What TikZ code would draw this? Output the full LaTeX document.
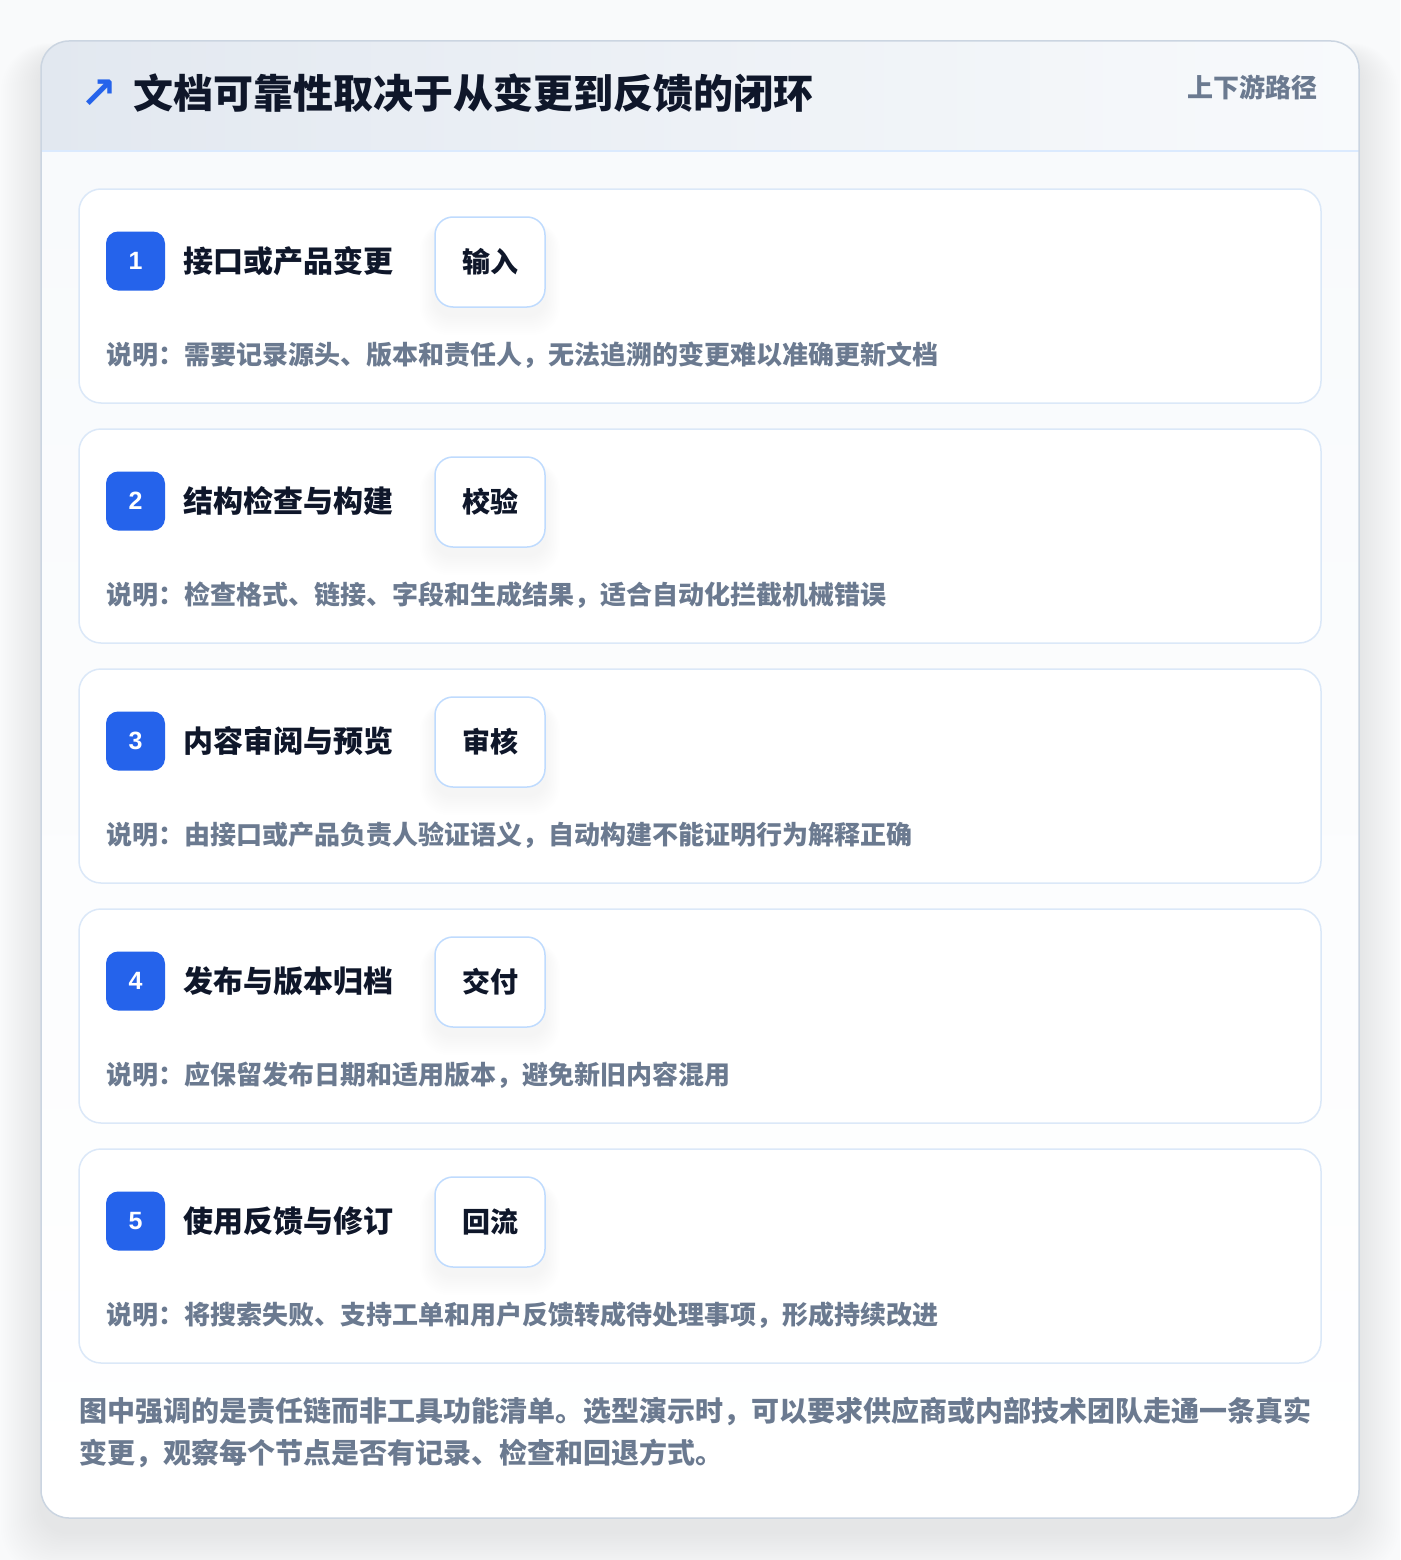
\documentclass[tikz,border=0pt]{standalone}
\usepackage{fontspec}
\setmainfont{Noto Sans CJK SC}
\newfontfamily\symfont{DejaVu Sans}
\newfontfamily\numfont{Liberation Sans}
\definecolor{pagebg}{HTML}{F9FAFB}
\definecolor{hdrL}{HTML}{E2E8F0}
\definecolor{hdrR}{HTML}{F8FAFC}
\definecolor{bodytop}{HTML}{F8FAFC}
\definecolor{outerborder}{HTML}{CBD5E1}
\definecolor{hdrline}{HTML}{DBEAFE}
\definecolor{cardborder}{HTML}{DBE8F8}
\definecolor{tagborder}{HTML}{BFDBFE}
\definecolor{accent}{HTML}{2563EB}
\definecolor{ink}{HTML}{0F172A}
\definecolor{muted}{HTML}{6B7A90}
\tikzset{
  card/.style={draw=cardborder, line width=1.5pt, fill=white, rounded corners=22pt,
    minimum width=1242pt, minimum height=214pt, inner sep=0pt},
  badge/.style={fill=accent, rounded corners=12pt, minimum width=59pt, minimum height=59pt,
    inner sep=0pt, text=white, font=\numfont\fontsize{25}{28}\selectfont\bfseries},
  steptitle/.style={anchor=west, inner sep=0pt, text=ink, font=\fontsize{30}{36}\selectfont\bfseries},
  tagbox/.style={draw=tagborder, line width=1.5pt, fill=white, rounded corners=18pt,
    minimum width=110pt, minimum height=90pt, inner sep=0pt, text=ink,
    font=\fontsize{28}{34}\selectfont\bfseries},
  desc/.style={anchor=west, inner sep=0pt, text=muted, font=\fontsize{26}{32}\selectfont\bfseries},
}
\newcommand{\mystep}[5]{%
  % #1 index, #2 top y, #3 title, #4 tag, #5 description
  \node[card] (card#1) at (700,#2+107) {};
  \foreach \k in {1,...,10}{
    \fill[black, opacity=0.005, rounded corners=18pt+\k pt]
      (435-\k*1.5,#2+28-\k*0.3+8) rectangle (545+\k*1.5,#2+118+\k*2+8);
  }
  \node[badge] (badge#1) at (135.5,#2+72) {#1};
  \node[steptitle] (title#1) at (183,#2+72) {#3};
  \node[tagbox] (tag#1) at (490,#2+73) {#4};
  \node[desc] (desc#1) at (106,#2+166) {#5};
}
\begin{document}
\begin{tikzpicture}[x=1pt,y=-1pt]
\useasboundingbox (0,0) rectangle (1400,1560);
\fill[pagebg] (0,0) rectangle (1400,1560);
% outer shadow
\foreach \i in {1,...,20}{
  \fill[black, opacity=0.0045, rounded corners=28pt+\i pt]
    (41-\i*2,41-\i*0.6+14) rectangle (1359+\i*2,1518+\i*2.2+14);
}
% outer card
\begin{scope}
  \clip[rounded corners=28pt] (41,41) rectangle (1359,1518);
  \shade[left color=hdrL, right color=hdrR] (41,41) rectangle (1359,151);
  \shade[top color=bodytop, bottom color=white] (41,151) rectangle (1359,1518);
  \draw[hdrline, line width=1.5pt] (41,151) -- (1359,151);
\end{scope}
\node[draw=outerborder, line width=1.5pt, rounded corners=28pt, minimum width=1318pt,
  minimum height=1477pt, inner sep=0pt] (outer) at (700,779.5) {};
% header
\node[anchor=center, inner sep=0pt, text=accent, font=\symfont\fontsize{44}{50}\selectfont\bfseries]
  (arrow) at (98.5,94) {↗};
\node[anchor=west, inner sep=0pt, text=ink, font=\fontsize{40}{48}\selectfont\bfseries]
  (maintitle) at (133,93) {文档可靠性取决于从变更到反馈的闭环};
\node[anchor=east, inner sep=0pt, text=muted, font=\fontsize{26}{32}\selectfont\bfseries]
  (pathlabel) at (1318,87) {上下游路径};
% steps
\mystep{1}{189}{接口或产品变更}{输入}{说明：需要记录源头、版本和责任人，无法追溯的变更难以准确更新文档}
\mystep{2}{429}{结构检查与构建}{校验}{说明：检查格式、链接、字段和生成结果，适合自动化拦截机械错误}
\mystep{3}{669}{内容审阅与预览}{审核}{说明：由接口或产品负责人验证语义，自动构建不能证明行为解释正确}
\mystep{4}{909}{发布与版本归档}{交付}{说明：应保留发布日期和适用版本，避免新旧内容混用}
\mystep{5}{1149}{使用反馈与修订}{回流}{说明：将搜索失败、支持工单和用户反馈转成待处理事项，形成持续改进}
% footer
\node[anchor=west, align=left, inner sep=0pt, text=muted, font=\fontsize{28}{42}\selectfont\bfseries]
  (footer) at (79,1432) {图中强调的是责任链而非工具功能清单。选型演示时，可以要求供应商或内部技术团队走通一条真实\\变更，观察每个节点是否有记录、检查和回退方式。};
\end{tikzpicture}
\end{document}
